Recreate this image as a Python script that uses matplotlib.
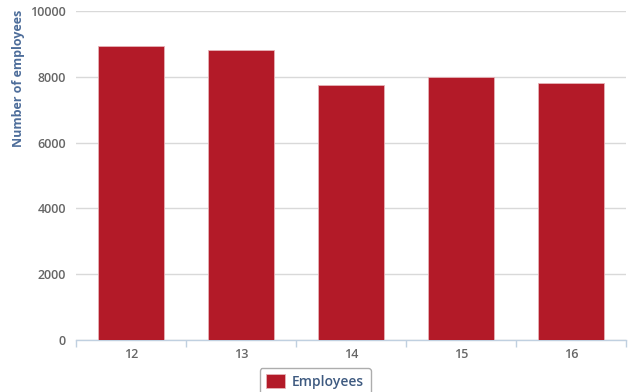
import numpy as np
import matplotlib.pyplot as plt
from matplotlib.ticker import FixedLocator

plt.rcParams['font.family'] = ['Open Sans', 'DejaVu Sans']

# data
years = ['12', '13', '14', '15', '16']
employees = [8940, 8810, 7760, 7990, 7820]

fig = plt.figure(figsize=(6.31, 3.92), dpi=100)
ax = fig.add_axes([0.120, 0.133, 0.872, 0.839])

x = np.arange(len(years))
ax.bar(x, employees, width=0.6, color='#b31a28', edgecolor='#e6b3b8',
       linewidth=0.6, label='Employees', zorder=3)

ax.set_xlim(-0.5, len(years) - 0.5)
ax.set_ylim(0, 10000)
ax.set_yticks([0, 2000, 4000, 6000, 8000, 10000])
ax.set_xticks(x)
ax.set_xticklabels(years)
ax.xaxis.set_minor_locator(FixedLocator(np.arange(-0.5, len(years), 1)))

ax.grid(axis='y', color='#d9d9d9', linewidth=1, zorder=0)
for s in ['top', 'right', 'left']:
    ax.spines[s].set_visible(False)
ax.spines['bottom'].set_color('#c0d0e0')
ax.spines['bottom'].set_linewidth(1)

ax.tick_params(axis='y', length=0, pad=7, labelsize=9, labelcolor='#666666')
ax.tick_params(axis='x', which='major', length=0, pad=6, labelsize=9, labelcolor='#666666')
ax.tick_params(axis='x', which='minor', length=5, color='#c0d0e0', width=1)
for lbl in ax.get_xticklabels() + ax.get_yticklabels():
    lbl.set_fontweight('semibold')

ax.set_ylabel('Number of employees', fontsize=9, fontweight='bold', color='#4d6d9a')
ax.yaxis.set_label_coords(-0.092, 0.796)

leg = ax.legend(loc='upper center', bbox_to_anchor=(0.435, -0.065), frameon=True,
                fontsize=10, handlelength=1.4, handleheight=1.1, borderpad=0.45,
                handletextpad=0.5, fancybox=True, edgecolor='#999999')
for t in leg.get_texts():
    t.set_color('#3e5a80')
    t.set_fontweight('semibold')

fig.savefig('out.png', dpi=100)
